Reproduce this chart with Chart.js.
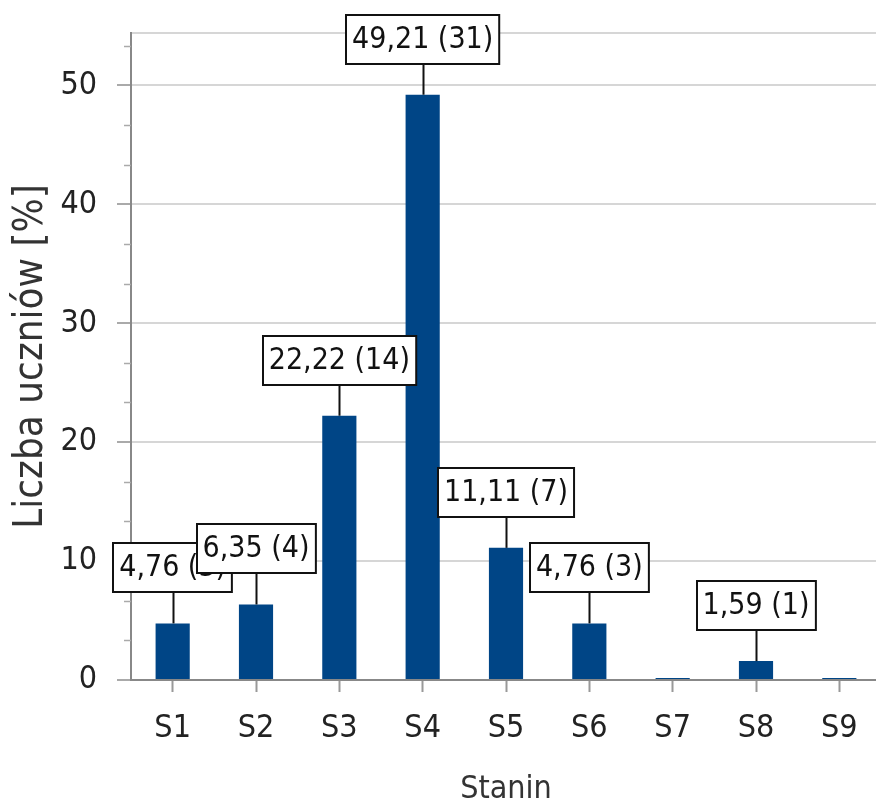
<!DOCTYPE html>
<html>
<head>
<meta charset="utf-8">
<script src="https://cdn.jsdelivr.net/npm/chart.js@4.4.0/dist/chart.umd.min.js"></script>
<style>
  html, body { margin:0; padding:0; background:#fff; overflow:hidden; }
  #wrap { width:882px; height:810px; }
</style>
</head>
<body>
<div id="wrap"><canvas id="staninChart" width="882" height="810"></canvas></div>
<script>
// stanin distribution: percent of students + count in brackets
const categories = ['S1','S2','S3','S4','S5','S6','S7','S8','S9'];
const percentValues = [4.76, 6.35, 22.22, 49.21, 11.11, 4.76, 0, 1.59, 0];
const studentCounts = [3, 4, 14, 31, 7, 3, 0, 1, 0];
const yAxisTitle = 'Liczba uczniów [%]';
const xAxisTitle = 'Stanin';
const yMax = 54.4;
const yStep = 10;

const FONT = '"Liberation Sans Narrow", "DejaVu Sans Condensed", sans-serif';
const BAR_COLOR = '#004586';

function labelText(i){
  return percentValues[i].toFixed(2).replace('.', ',') + ' (' + studentCounts[i] + ')';
}

// small ticks between the major ones on the y axis
const minorTicks = {
  id: 'minorTicks',
  afterDraw(chart){
    const y = chart.scales.y;
    const ctx = chart.ctx;
    const axisX = chart.chartArea.left;
    ctx.save();
    ctx.strokeStyle = '#aaa';
    ctx.lineWidth = 1.5;
    for(let i = 1; i * yStep / 3 <= yMax; i++){
      if(i % 3 === 0) continue;
      const py = Math.round(y.getPixelForValue(i * yStep / 3)) + 0.5;
      ctx.beginPath();
      ctx.moveTo(axisX - 7, py);
      ctx.lineTo(axisX, py);
      ctx.stroke();
    }
    ctx.restore();
  }
};

// boxed value labels with a leader line down to the bar
const boxLabels = {
  id: 'boxLabels',
  afterDatasetsDraw(chart){
    const ctx = chart.ctx;
    const meta = chart.getDatasetMeta(0);
    ctx.save();
    ctx.font = '30px ' + FONT;
    ctx.textAlign = 'center';
    ctx.textBaseline = 'middle';
    meta.data.forEach((bar, i) => {
      if(!percentValues[i]) return;
      const txt = labelText(i);
      const w = ctx.measureText(txt).width + 12;
      const h = 49;
      const bottom = bar.y - 31;
      const left = Math.round(bar.x - w / 2);
      const top = Math.round(bottom - h);
      ctx.strokeStyle = '#111';
      ctx.lineWidth = 2;
      ctx.beginPath();
      ctx.moveTo(Math.round(bar.x) + 0.5, bottom);
      ctx.lineTo(Math.round(bar.x) + 0.5, bar.y);
      ctx.stroke();
      ctx.fillStyle = '#fff';
      ctx.fillRect(left, top, w, h);
      ctx.strokeRect(left, top, w, h);
      ctx.fillStyle = '#111';
      ctx.fillText(txt, bar.x, top + h / 2 + 1);
    });
    ctx.restore();
  }
};

new Chart(document.getElementById('staninChart').getContext('2d'), {
  type: 'bar',
  data: {
    labels: categories,
    datasets: [{
      data: percentValues,
      backgroundColor: BAR_COLOR,
      borderWidth: 0,
      minBarLength: 2,
      categoryPercentage: 1,
      barPercentage: 0.41
    }]
  },
  options: {
    responsive: false,
    animation: false,
    layout: { padding: { top: 33, right: 1, bottom: 0, left: 0 } },
    plugins: { legend: { display: false }, tooltip: { enabled: false }, title: { display: false } },
    scales: {
      x: {
        afterFit: s => { s.height = 130; s.paddingLeft = 0; s.paddingRight = 0; },
        grid: { display: true, drawOnChartArea: false, offset: false, tickLength: 12, tickColor: '#999', tickWidth: 2 },
        border: { color: '#888', width: 2 },
        ticks: { color: '#222', padding: 17, font: { family: FONT, size: 32 } },
        title: { display: true, text: xAxisTitle, color: '#333', padding: { top: 0, bottom: 1 }, font: { family: FONT, size: 32 } }
      },
      y: {
        min: 0,
        max: yMax,
        afterFit: s => { s.width = 131; s.paddingTop = 0; s.paddingBottom = 0; },
        grid: {
          color: '#d6d6d6',
          lineWidth: 2,
          tickLength: 14,
          tickWidth: 2,
          tickColor: c => (c.tick && c.tick.value % yStep === 0) ? '#aaa' : 'rgba(0,0,0,0)'
        },
        border: { color: '#888', width: 2 },
        ticks: {
          stepSize: yStep,
          color: '#222',
          padding: 20,
          font: { family: FONT, size: 32 },
          callback: v => (v % yStep === 0 ? v : '')
        },
        title: { display: true, text: yAxisTitle, color: '#333', padding: { top: 8, bottom: 0 }, font: { family: FONT, size: 40 } }
      }
    }
  },
  plugins: [minorTicks, boxLabels]
});
</script>
</body>
</html>
